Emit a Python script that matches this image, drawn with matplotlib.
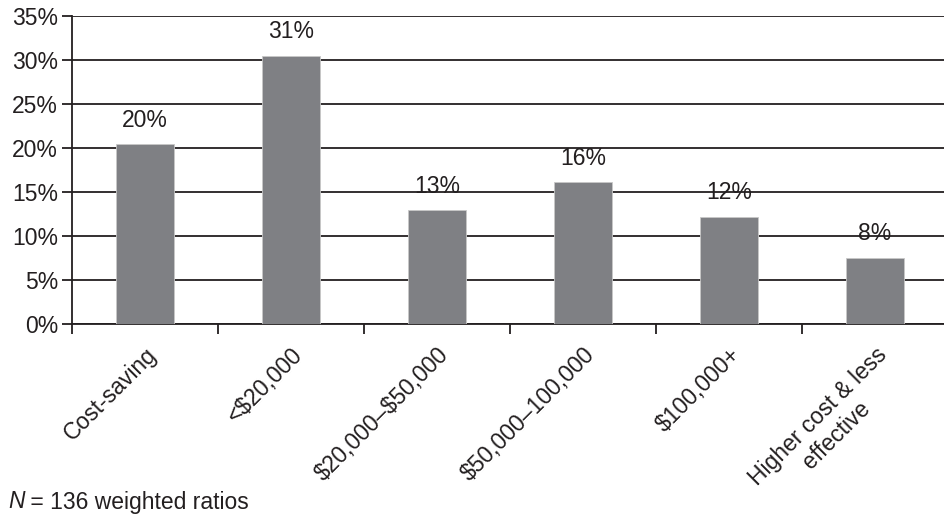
import matplotlib
matplotlib.use("Agg")
import matplotlib.pyplot as plt
from matplotlib.ticker import FixedLocator, PercentFormatter

categories = ["Cost-saving", "<$20,000", "$20,000\u2013$50,000", "$50,000\u2013100,000",
              "$100,000+", "Higher cost & less\neffective"]
values = [20.4, 30.5, 12.9, 16.1, 12.2, 7.5]
labels = ["20%", "31%", "13%", "16%", "12%", "8%"]
yticks = [0, 5, 10, 15, 20, 25, 30, 35]

plt.rcParams['font.family'] = ['Liberation Sans', 'DejaVu Sans']
FS = 16.5
TXT = "#231f20"
W, H = 945, 519
fig = plt.figure(figsize=(W / 100, H / 100), dpi=100)
left, right, top, bottom = 72, 945, 16, 324
ax = fig.add_axes([left / W, 1 - bottom / H, (right - left) / W, (bottom - top) / H])

x = list(range(len(categories)))
ax.bar(x, values, width=0.4, color="#7f8084", edgecolor="#c8c8c8", linewidth=0.6, zorder=3)
for xi, v, lab in zip(x, values, labels):
    ax.annotate(lab, (xi, v), xytext=(0, 9), textcoords="offset points",
                ha="center", va="bottom", fontsize=FS, color=TXT)

ax.set_ylim(0, 35)
ax.set_xlim(-0.5, -0.5 + (right - left) / 146)
ax.set_yticks(yticks)
ax.yaxis.set_major_formatter(PercentFormatter(decimals=0))
ax.yaxis.grid(True, color=TXT, linewidth=1.3, zorder=1)
ax.set_axisbelow(True)

ax.xaxis.set_major_locator(FixedLocator([i - 0.5 for i in range(len(categories) + 1)]))
ax.xaxis.set_major_formatter(plt.NullFormatter())
ax.set_xticks(x, minor=True)
tl = ax.set_xticklabels(categories, minor=True, rotation=45, ha="right", va="top",
                        rotation_mode="anchor", fontsize=FS, color=TXT,
                        multialignment="center")
for t in tl:
    t.set_parse_math(False)
ax.tick_params(axis="x", which="minor", length=0, pad=14)
ax.tick_params(axis="x", which="major", length=7, width=1.3, color=TXT, direction="out")
ax.tick_params(axis="y", length=7, width=1.3, color=TXT, labelsize=FS,
               labelcolor=TXT, pad=3)

for s in ["top", "right"]:
    ax.spines[s].set_visible(False)
for s in ["left", "bottom"]:
    ax.spines[s].set_linewidth(1.3)
    ax.spines[s].set_color(TXT)

tN = fig.text(8 / W, 1 - 502 / H, "N", fontsize=FS, style="italic", color=TXT,
              va="center", ha="left")
fig.canvas.draw()
bb = tN.get_window_extent()
fig.text(bb.x1 / W, 1 - 502 / H, " = 136 weighted ratios", fontsize=FS, color=TXT,
         va="center", ha="left")
fig.savefig("out.png", dpi=100)
